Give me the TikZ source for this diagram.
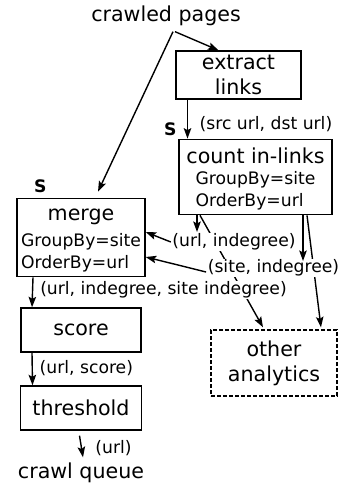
\documentclass[tikz,border=0pt]{standalone}
\usepackage{fontspec}
\setmainfont{DejaVu Sans}
\usepackage{tikz}
\usetikzlibrary{arrows.meta}
\newcommand{\mainsize}{\fontsize{20.6}{25}\selectfont}
\newcommand{\lblsize}{\fontsize{17.2}{21.5}\selectfont}

\begin{document}
\begin{tikzpicture}[x=1pt, y=-1pt, line width=1.4pt, >={Stealth[length=10.5pt, width=7.5pt, inset=2pt]}]
		\tikzstyle{box}=[
		draw,
		rectangle,
		align=center,
		inner sep=2pt,
		font=\mainsize]
		\tikzstyle{box_dashed}=[
		box,
		dash pattern=on 4pt off 2pt]
		\tikzstyle{plain}=[
		inner sep=2pt,
		font=\mainsize]
		\tikzstyle{lbl}=[
		fill=white,
		inner sep=1pt,
		font=\lblsize]
		\tikzstyle{sort}=[
		inner sep=0pt,
		font=\lblsize\bfseries]
		\useasboundingbox (0,0) rectangle (341,484);
		\node[plain] (CP) at (166,16) {crawled pages};
		\node[box, minimum width=125pt, minimum height=48pt] (EL) at (238.5,75) {extract\\links};
		\node[box, minimum width=153pt, minimum height=70pt] (CI) at (255.5,177) {\rule{0pt}{22pt}count in-links\\[5pt]\lblsize\begin{tabular}{@{}l@{}}GroupBy=site\\OrderBy=url\end{tabular}};
		\node[box, minimum width=128pt, minimum height=77pt] (M) at (81,237.5) {\rule{0pt}{20pt}merge\\[6pt]\lblsize\begin{tabular}{@{}l@{}}GroupBy=site\\OrderBy=url\end{tabular}};
		\node[box, minimum width=120pt, minimum height=44pt, below of=M, node distance=92.5pt] (SC) {score};
		\node[box, minimum width=121pt, minimum height=44pt, below of=SC, node distance=78pt] (T) {threshold};
		\node[box_dashed, minimum width=126pt, minimum height=66pt] (OA) at (274,363) {other\\analytics};
		\node[plain, below of=T, node distance=65pt] (CQ) {crawl queue};
		%
		\node[sort, anchor=south east] (S_CI) at ([xshift=-1pt,yshift=2pt]CI.north west) {S};
		\node[sort, anchor=south] (S_M) at ([xshift=24pt,yshift=4pt]M.north west) {S};
		%
		\path [->] ([xshift=9pt,yshift=-3pt]CP.south) edge ([xshift=-20pt]EL.north);
		\path [->] ([xshift=7pt,yshift=-3pt]CP.south) edge ([xshift=17pt,yshift=6pt]M.north);
		\path [->] ([xshift=-51pt]EL.south) edge ([xshift=-68pt]CI.north);
		\path [->] ([xshift=-55.5pt]CI.south) edge ([xshift=-11pt,yshift=2pt]OA.north);
		\path [->] ([xshift=51.5pt]CI.south) edge ([xshift=47pt,yshift=2pt]OA.north);
		%
		\node[lbl, anchor=west] (L_SD) at (198,124) {(src url, dst url)};
		\node[lbl] (L_UI) at (234,242) {(url, indegree)};
		\node[lbl] (L_SI) at (273.5,268) {(site, indegree)};
		\node[lbl] (L_UISI) at (163.5,290) {(url, indegree, site indegree)};
		\node[lbl, anchor=west] (L_US) at (38,368) {(url, score)};
		\node[lbl] (L_U) at (113.5,448) {(url)};
		%
		\path [->] ([xshift=-58.5pt]CI.south) edge ([xshift=-37pt]L_UI.north);
		\path [->] (L_UI.west) edge ([yshift=5.5pt]M.east);
		\path [->] ([xshift=47.5pt]CI.south) edge ([xshift=29.5pt,yshift=-3pt]L_SI.north);
		\path [->] ([yshift=-4pt]L_SI.west) edge ([yshift=-19.5pt]M.east);
		\path [->] ([xshift=-48pt]M.south) edge ([xshift=-49pt]SC.north);
		\path [->] ([xshift=-49pt]SC.south) edge ([xshift=-48.5pt]T.north);
		\path [->] ([xshift=-1.5pt,yshift=-5pt]T.south) edge ([xshift=2pt,yshift=3pt]CQ.north);
	\end{tikzpicture}
\end{document}
